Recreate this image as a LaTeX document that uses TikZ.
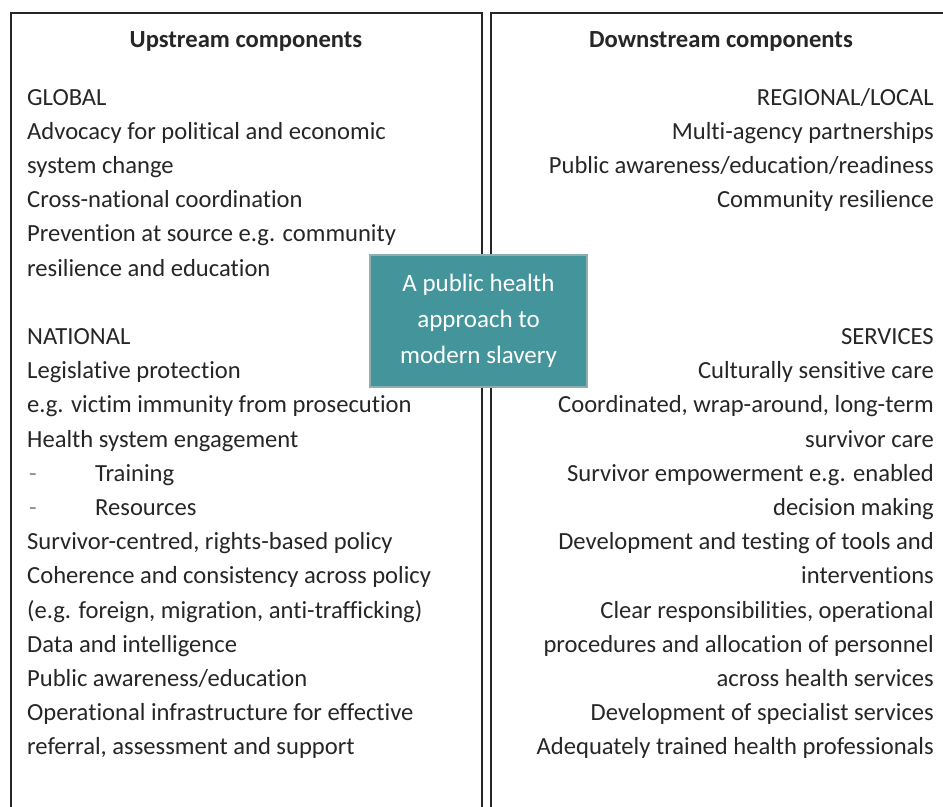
\documentclass[tikz,border=0pt]{standalone}
\usepackage{fontspec}
\setmainfont{Carlito}[Ligatures=NoCommon]
\definecolor{tealfill}{HTML}{43959B}
\definecolor{tealedge}{HTML}{8FAEAF}
\definecolor{framecol}{HTML}{262626}
\definecolor{inkcol}{HTML}{262626}
\definecolor{dashcol}{HTML}{8A8A8A}
\newcommand\bodyfont{\fontsize{24.6bp}{34.2bp}\selectfont}
\newcommand\Lline[3]{\node[lt] (#1) at (27,{105+34.2*#2}) {#3};}
\newcommand\Rline[3]{\node[rt] (#1) at (934,{105+34.2*#2}) {#3};}
\begin{document}
\begin{tikzpicture}[x=1bp,y=-1bp,
  frameline/.style={draw=framecol, line width=1.4bp},
  hdr/.style={anchor=base, inner sep=0pt, text=inkcol, font=\bodyfont\bfseries},
  lt/.style={anchor=base west, inner sep=0pt, text=inkcol, font=\bodyfont},
  rt/.style={anchor=base east, inner sep=0pt, text=inkcol, font=\bodyfont},
  dashmark/.style={anchor=base west, inner sep=0pt, text=dashcol, font=\bodyfont},
  centrebox/.style={draw=tealedge, line width=2.5bp, fill=tealfill, text=white,
    minimum width=217bp, minimum height=132bp, inner sep=0pt, align=center,
    font=\fontsize{25bp}{36bp}\selectfont}]
\useasboundingbox (0,0) rectangle (943,807);
\clip (0,0) rectangle (943,807);
\fill[white] (0,0) rectangle (943,807);
% frames
\draw[frameline] (11,13) rectangle (482,840);
\draw[frameline] (491,13) rectangle (970,840);
% headers
\node[hdr] (uh) at (246,48) {Upstream components};
\node[hdr] (dh) at (721,48) {Downstream components};
% upstream
\Lline{u0}{0}{GLOBAL}
\Lline{u1}{1}{Advocacy for political and economic}
\Lline{u2}{2}{system change}
\Lline{u3}{3}{Cross-national coordination}
\Lline{u4}{4}{Prevention at source e.g. community}
\Lline{u5}{5}{resilience and education}
\Lline{u7}{7}{NATIONAL}
\Lline{u8}{8}{Legislative protection}
\Lline{u9}{9}{e.g. victim immunity from prosecution}
\Lline{u10}{10}{Health system engagement}
\node[dashmark] (d11) at (29,{105+34.2*11}) {-};
\node[lt] (u11) at (95,{105+34.2*11}) {Training};
\node[dashmark] (d12) at (29,{105+34.2*12}) {-};
\node[lt] (u12) at (95,{105+34.2*12}) {Resources};
\Lline{u13}{13}{Survivor-centred, rights-based policy}
\Lline{u14}{14}{Coherence and consistency across policy}
\Lline{u15}{15}{(e.g. foreign, migration, anti-trafficking)}
\Lline{u16}{16}{Data and intelligence}
\Lline{u17}{17}{Public awareness/education}
\Lline{u18}{18}{Operational infrastructure for effective}
\Lline{u19}{19}{referral, assessment and support}
% downstream
\Rline{r0}{0}{REGIONAL/LOCAL}
\Rline{r1}{1}{Multi-agency partnerships}
\Rline{r2}{2}{Public awareness/education/readiness}
\Rline{r3}{3}{Community resilience}
\Rline{r7}{7}{SERVICES}
\Rline{r8}{8}{Culturally sensitive care}
\Rline{r9}{9}{Coordinated, wrap-around, long-term}
\Rline{r10}{10}{survivor care}
\Rline{r11}{11}{Survivor empowerment e.g. enabled}
\Rline{r12}{12}{decision making}
\Rline{r13}{13}{Development and testing of tools and}
\Rline{r14}{14}{interventions}
\Rline{r15}{15}{Clear responsibilities, operational}
\Rline{r16}{16}{procedures and allocation of personnel}
\Rline{r17}{17}{across health services}
\Rline{r18}{18}{Development of specialist services}
\Rline{r19}{19}{Adequately trained health professionals}
% centre box
\node[centrebox] (ph) at (478.5,321) {A public health\\approach to\\modern slavery};
\end{tikzpicture}
\end{document}
